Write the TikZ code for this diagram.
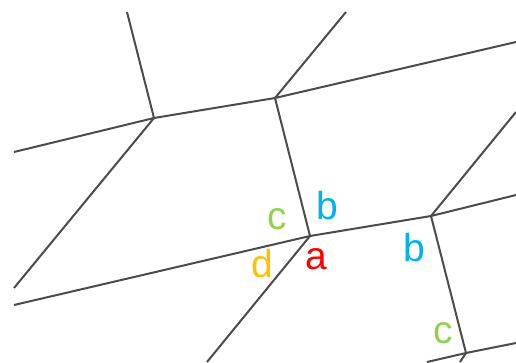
\documentclass[tikz,border=0pt]{standalone}
\usepackage{fontspec}
\setmainfont{Liberation Sans}
\usepackage{tikz}

\definecolor{labred}{RGB}{255,0,0}
\definecolor{labblue}{RGB}{0,176,240}
\definecolor{labgreen}{RGB}{146,208,80}
\definecolor{laborange}{RGB}{255,192,0}
\definecolor{edgegray}{RGB}{75,75,75}

\tikzset{
  edge/.style={draw=edgegray, line width=2pt},
  lab/.style={inner sep=0pt, font=\fontsize{39}{39}\selectfont}
}

\begin{document}
\begin{tikzpicture}[x=1pt, y=-1pt]
  \useasboundingbox (0,0) rectangle (516,362);
  % junctions
  \coordinate (p) at (154,118);
  \coordinate (q) at (275,98);
  \coordinate (r) at (310,236);
  \coordinate (s) at (431,216);
  \coordinate (t) at (466,353);
  % free ends at the border
  \coordinate (e1) at (127,12);
  \coordinate (e2) at (14,152);
  \coordinate (e3) at (346,12);
  \coordinate (e4) at (516,42);
  \coordinate (e5) at (14,288);
  \coordinate (e6) at (14,305);
  \coordinate (e7) at (207,362);
  \coordinate (e8) at (516,112);
  \coordinate (e9) at (516,195);
  \coordinate (e10) at (427,362);
  \coordinate (e11) at (516,343);
  \coordinate (e12) at (460,362);

  \draw[edge] (e1) -- (p);
  \draw[edge] (e2) -- (p) -- (q) -- (e4);
  \draw[edge] (e5) -- (p);
  \draw[edge] (e3) -- (q) -- (r);
  \draw[edge] (e6) -- (r) -- (s) -- (e9);
  \draw[edge] (e7) -- (r);
  \draw[edge] (e8) -- (s) -- (t);
  \draw[edge] (e10) -- (t) -- (e11);
  \draw[edge] (e12) -- (t);

  % labels
  \node[lab, text=labgreen] (c1) at (277,219) {c};
  \node[lab, text=labblue] (b1) at (327,206) {b};
  \node[lab, text=laborange] (d1) at (262,264) {d};
  \node[lab, text=labred] (a1) at (316,259) {a};
  \node[lab, text=labblue] (b2) at (414,248) {b};
  \node[lab, text=labgreen] (c2) at (443,333) {c};
\end{tikzpicture}
\end{document}
